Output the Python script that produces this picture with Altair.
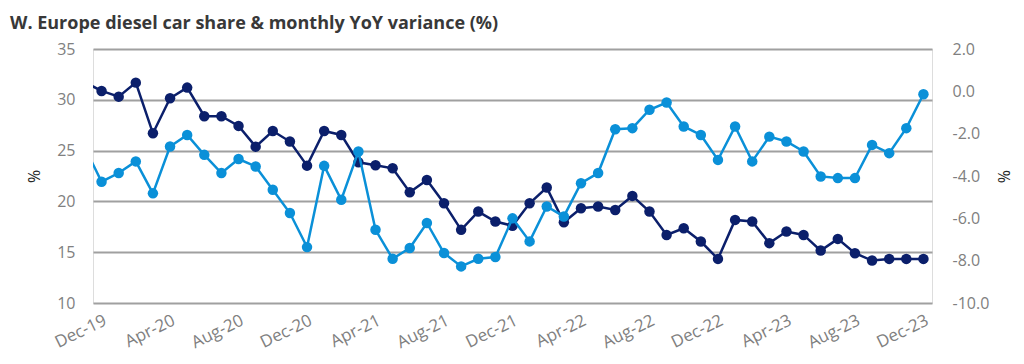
import altair as alt
import pandas as pd

# Months (Nov-19 is just left of the visible range; the line enters from the edge)
months = ["Nov-19", "Dec-19", "Jan-20", "Feb-20", "Mar-20", "Apr-20", "May-20", "Jun-20", "Jul-20",
          "Aug-20", "Sep-20", "Oct-20", "Nov-20", "Dec-20", "Jan-21", "Feb-21", "Mar-21", "Apr-21",
          "May-21", "Jun-21", "Jul-21", "Aug-21", "Sep-21", "Oct-21", "Nov-21", "Dec-21", "Jan-22",
          "Feb-22", "Mar-22", "Apr-22", "May-22", "Jun-22", "Jul-22", "Aug-22", "Sep-22", "Oct-22",
          "Nov-22", "Dec-22", "Jan-23", "Feb-23", "Mar-23", "Apr-23", "May-23", "Jun-23", "Jul-23",
          "Aug-23", "Sep-23", "Oct-23", "Nov-23", "Dec-23"]

# Diesel car share (%), left axis
share = [31.75, 30.87, 30.31, 31.69, 26.7, 30.15, 31.2, 28.38, 28.38, 27.43, 25.39, 26.93, 25.89,
         23.52, 26.93, 26.54, 23.85, 23.56, 23.26, 20.9, 22.11, 19.82, 17.2, 19.0, 18.02, 17.6,
         19.82, 21.36, 17.95, 19.33, 19.49, 19.16, 20.54, 19.0, 16.7, 17.36, 16.05, 14.34, 18.18,
         18.02, 15.89, 17.03, 16.7, 15.16, 16.31, 14.9, 14.18, 14.34, 14.34, 14.34]

# Monthly YoY variance (pp), right axis
yoy = [-2.62, -4.27, -3.86, -3.31, -4.82, -2.61, -2.06, -3.0, -3.86, -3.2, -3.55, -4.65, -5.75,
       -7.36, -3.52, -5.12, -2.84, -6.54, -7.91, -7.40, -6.22, -7.64, -8.27, -7.91, -7.83, -6.0,
       -7.09, -5.44, -5.91, -4.34, -3.86, -1.79, -1.74, -0.87, -0.53, -1.66, -2.06, -3.24, -1.66,
       -3.31, -2.14, -2.37, -2.84, -4.02, -4.1, -4.1, -2.53, -2.92, -1.74, -0.14]

tick_labels = ["Dec-19", "Apr-20", "Aug-20", "Dec-20", "Apr-21", "Aug-21", "Dec-21",
               "Apr-22", "Aug-22", "Dec-22", "Apr-23", "Aug-23", "Dec-23"]
left_ticks = [10, 15, 20, 25, 30, 35]
right_ticks = [-10, -8, -6, -4, -2, 0, 2]

df = pd.DataFrame({
    "month": months,
    "idx": list(range(-1, len(months) - 1)),
    "share": share,
    "yoy": yoy,
})

FONT = "Open Sans"
DARK = "#0B1F6B"
LIGHT = "#0A90D8"

tick_pos = [months.index(t) - 1 for t in tick_labels]
label_expr = ("[" + ",".join("'%s'" % t for t in tick_labels) + "][round(datum.value/4)]")

x_enc = alt.X(
    "idx:Q",
    scale=alt.Scale(domain=[-0.5, len(months) - 1.5], nice=False, zero=False),
    axis=alt.Axis(
        values=tick_pos, labelExpr=label_expr, title=None, grid=False, domain=False,
        ticks=False, labelAngle=-26, labelAlign="right", labelBaseline="top",
        labelPadding=9, labelFontSize=17, labelColor="#808080", labelFont=FONT,
        labelOverlap=False,
    ),
)

dark = alt.Chart(df).mark_line(
    color=DARK, strokeWidth=2.5, clip=True,
    point=alt.OverlayMarkDef(filled=True, size=110, color=DARK, opacity=1, clip=True),
).encode(
    x=x_enc,
    y=alt.Y(
        "share:Q",
        scale=alt.Scale(domain=[10, 35], nice=False, zero=False),
        axis=alt.Axis(
            orient="left", values=left_ticks, title="%", grid=True, gridColor="#a0a0a0",
            gridWidth=2, domain=False, ticks=False, labelPadding=18, labelFontSize=16,
            labelColor="#808080", labelFont=FONT, titleFont=FONT, titleFontSize=16,
            titleFontWeight="normal", titleColor="#262626", titlePadding=14,
        ),
    ),
)

light = alt.Chart(df).mark_line(
    color=LIGHT, strokeWidth=2.5, clip=True,
    point=alt.OverlayMarkDef(filled=True, size=110, color=LIGHT, opacity=1, clip=True),
).encode(
    x=x_enc,
    y=alt.Y(
        "yoy:Q",
        scale=alt.Scale(domain=[-10, 2], nice=False, zero=False),
        axis=alt.Axis(
            orient="right", values=right_ticks, title="%", grid=False, domain=False,
            ticks=False, labelPadding=20, labelFontSize=16, labelColor="#808080",
            labelFont=FONT, labelAlign="left",
            labelExpr="(datum.value < 0 ? '-' : '') + format(abs(datum.value), '.1f')",
            titleFont=FONT, titleFontSize=16, titleFontWeight="normal",
            titleColor="#262626", titlePadding=6,
        ),
    ),
)

chart = alt.layer(dark, light).resolve_scale(y="independent").properties(
    width=839,
    height=254,
    autosize="none",
    padding={"left": 85, "top": 41, "right": 84, "bottom": 53},
    title=alt.TitleParams(
        text="W. Europe diesel car share & monthly YoY variance (%)",
        anchor="start", frame="group", dx=-83, offset=8, fontSize=18,
        font=FONT, fontWeight="bold", color="#383838",
    ),
).configure_view(stroke=None).configure(background="white")

chart.save("out.html", embed_options={"renderer": "svg", "actions": False})
